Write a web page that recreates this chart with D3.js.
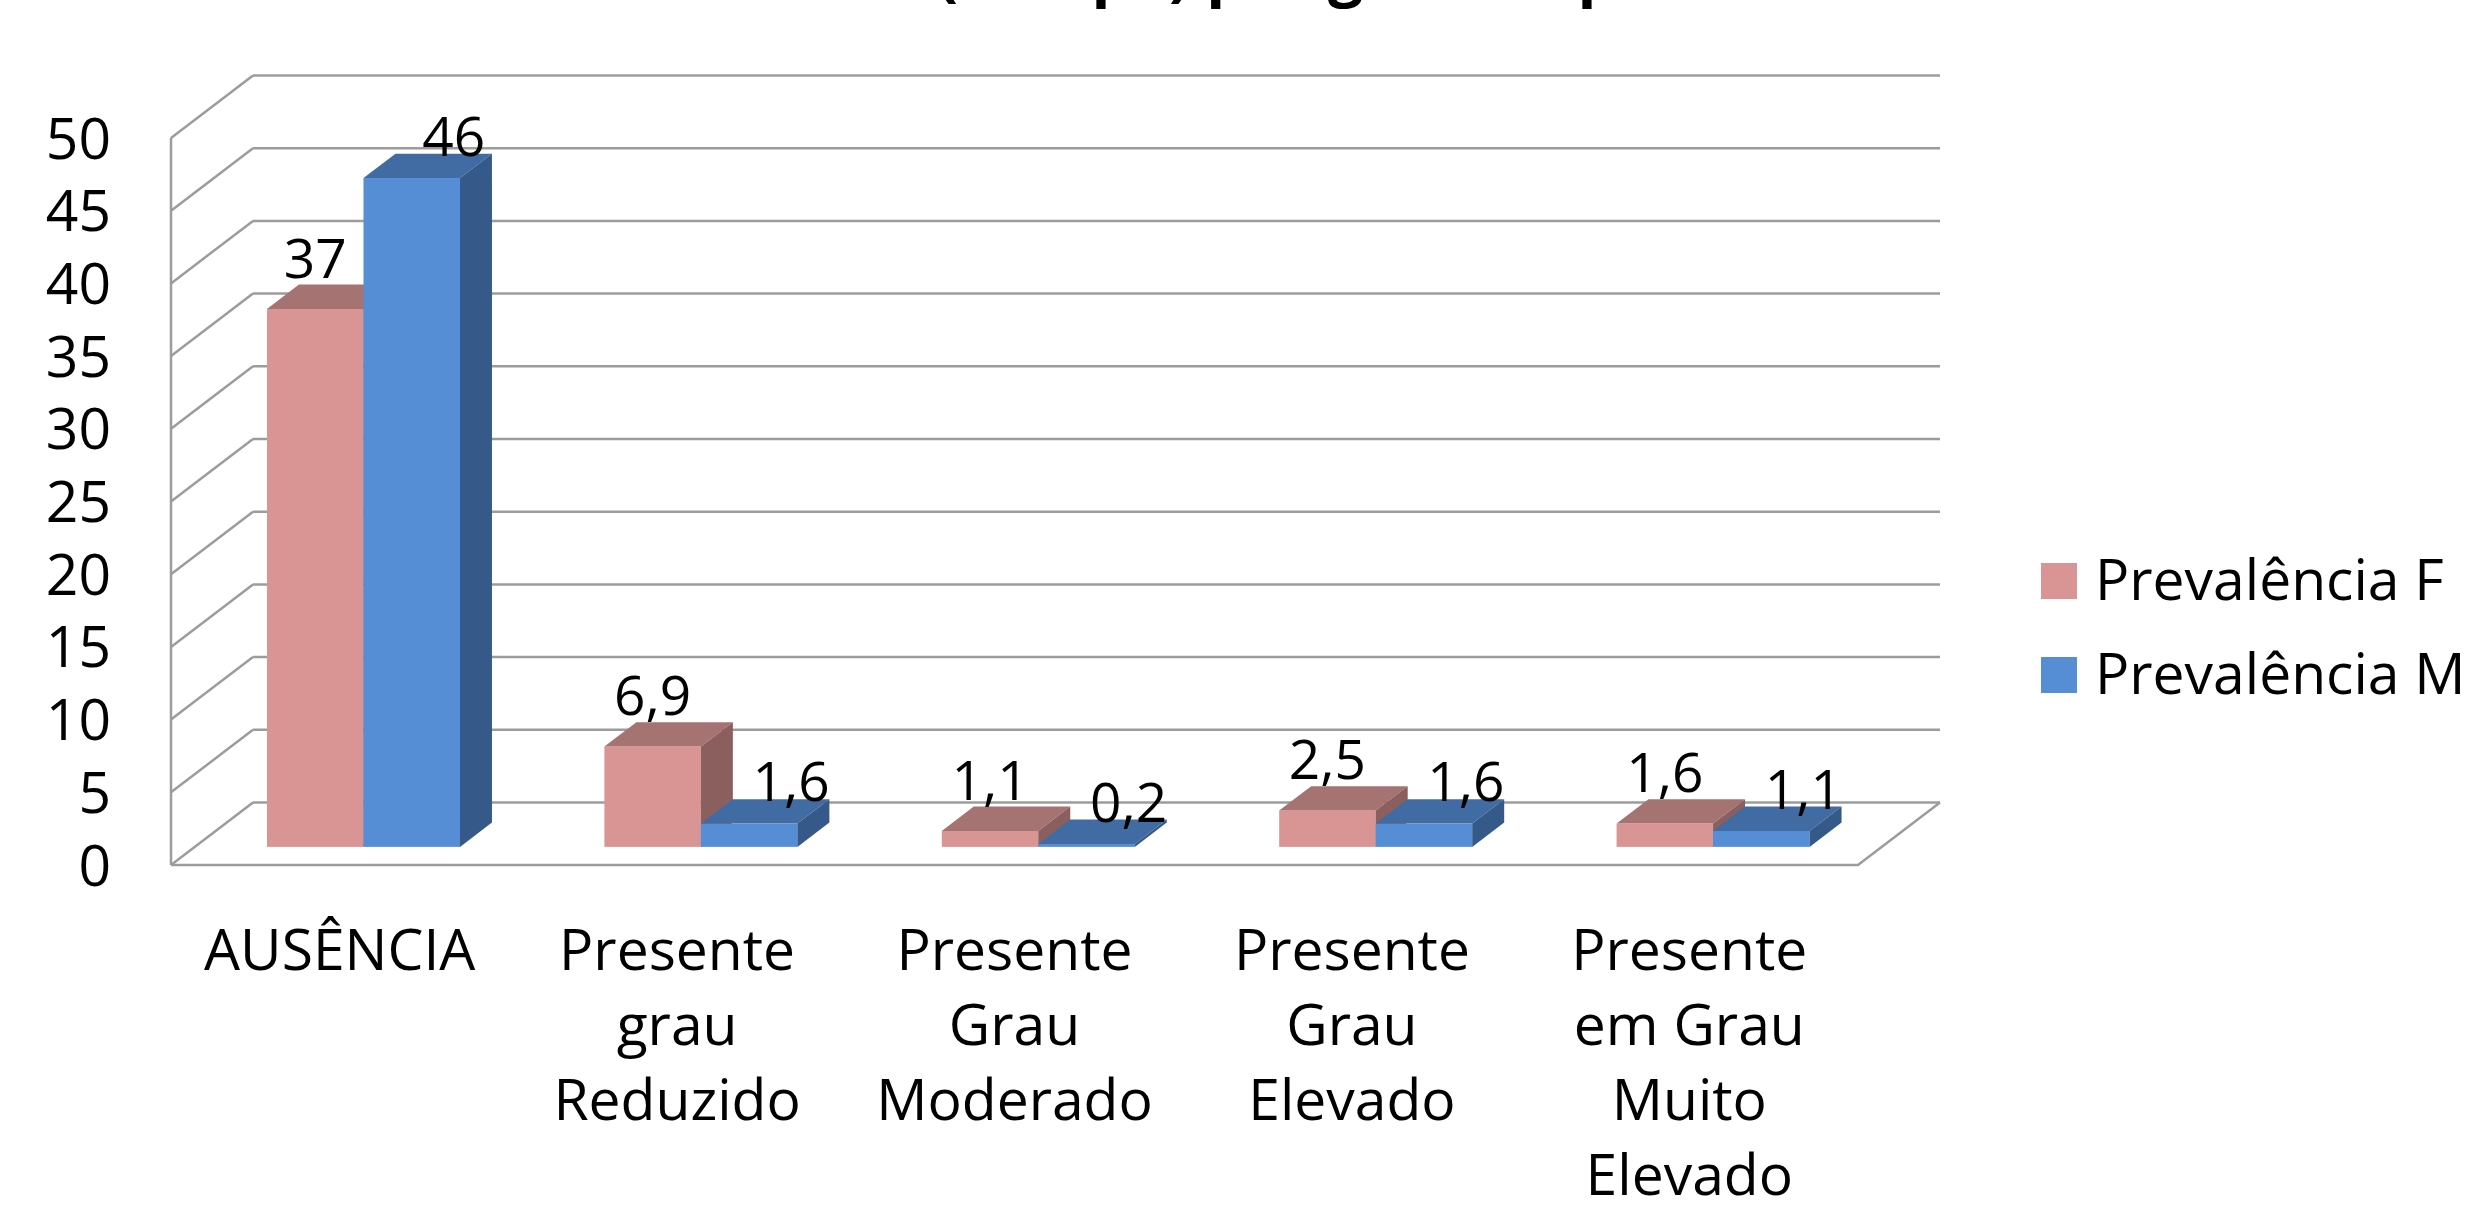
<!DOCTYPE html>
<html>
<head>
<meta charset="utf-8">
<script src="https://cdn.jsdelivr.net/npm/d3@7"></script>
<style>
  body { margin: 0; background: #fff; }
  text { font-family: "Open Sans", Lato, sans-serif; fill: #000; }
</style>
</head>
<body>
<script>
// chart data
var categories = ["AUSÊNCIA", "Presente\ngrau\nReduzido", "Presente\nGrau\nModerado",
                  "Presente\nGrau\nElevado", "Presente\nem Grau\nMuito\nElevado"];
var series = ["Prevalência F", "Prevalência M"];
var valuesF = [37, 6.9, 1.1, 2.5, 1.6];
var valuesM = [46, 1.6, 0.2, 1.6, 1.1];
var yTicks = [0, 5, 10, 15, 20, 25, 30, 35, 40, 45, 50];
var titleStart = "Prevalência ",
    titleRest = "(Tempo) por grau de placa";

var w = 2470, h = 1206;

// colours: front / top / side of each series
var colors = {
  "Prevalência F": {front: "#D99594", top: "#A57371", side: "#8B5F5E"},
  "Prevalência M": {front: "#558ED5", top: "#416CA3", side: "#355A89"}
};

var svg = d3.select("body").append("svg")
  .attr("width", w)
  .attr("height", h);

svg.append("rect").attr("width", w).attr("height", h).attr("fill", "#fff");

// front plane of the floor, the walls sit one depth step behind it
var x = d3.scaleBand().domain(categories).range([171, 1858]);
var y = d3.scaleLinear().domain([0, 50]).range([865, 138]);
var depthX = 82, depthY = -62.5;

// bars stand in the middle of the floor depth
var barFront = 0.29, barDepth = 0.39, barHalf = 96.5;
var xs = d3.scaleBand().domain(series).range([-barHalf, barHalf]);

var grid = svg.append("g")
  .attr("fill", "none")
  .attr("stroke", "#9c9c9c")
  .attr("stroke-width", 2.5);

// back wall lines
grid.selectAll("line.back").data(yTicks).enter().append("line")
  .attr("x1", x.range()[0] + depthX)
  .attr("x2", x.range()[1] + depthX)
  .attr("y1", function(d){ return y(d) + depthY; })
  .attr("y2", function(d){ return y(d) + depthY; });

// side wall diagonals
grid.selectAll("line.side").data(yTicks).enter().append("line")
  .attr("x1", x.range()[0])
  .attr("x2", x.range()[0] + depthX)
  .attr("y1", function(d){ return y(d); })
  .attr("y2", function(d){ return y(d) + depthY; });

// front vertical axis + floor edge
grid.append("line")
  .attr("x1", x.range()[0]).attr("x2", x.range()[0])
  .attr("y1", y(50)).attr("y2", y(0));
grid.append("path")
  .attr("d", "M" + x.range()[0] + "," + y(0) + "H" + x.range()[1] +
             "l" + depthX + "," + depthY);

// y tick labels
svg.append("g").selectAll("text").data(yTicks).enter().append("text")
  .attr("x", 111)
  .attr("y", function(d){ return y(d); })
  .attr("dy", "0.36em")
  .attr("text-anchor", "end")
  .style("font-size", "57px")
  .text(function(d){ return d; });

// build one row per bar
var bars = [];
categories.forEach(function(c, i){
  bars.push({cat: c, s: series[0], v: valuesF[i]});
  bars.push({cat: c, s: series[1], v: valuesM[i]});
});

var ox = depthX * barFront, oy = depthY * barFront;
var dx = depthX * barDepth, dy = depthY * barDepth;

var barG = svg.append("g").selectAll("g").data(bars).enter().append("g");

barG.each(function(d){
  var g = d3.select(this);
  var x0 = x(d.cat) + x.bandwidth() / 2 + xs(d.s) + ox,
      x1 = x0 + xs.bandwidth(),
      yt = y(d.v) + oy,
      yb = y(0) + oy;
  d.x0 = x0; d.x1 = x1; d.yt = yt;
  g.append("rect")
    .attr("x", x0).attr("y", yt)
    .attr("width", x1 - x0).attr("height", yb - yt)
    .attr("fill", colors[d.s].front);
  g.append("path")
    .attr("d", "M" + x0 + "," + yt + "L" + x1 + "," + yt + "L" + (x1 + dx) + "," + (yt + dy) +
               "L" + (x0 + dx) + "," + (yt + dy) + "Z")
    .attr("fill", colors[d.s].top);
  g.append("path")
    .attr("d", "M" + x1 + "," + yt + "L" + (x1 + dx) + "," + (yt + dy) + "L" + (x1 + dx) + "," + (yb + dy) +
               "L" + x1 + "," + yb + "Z")
    .attr("fill", colors[d.s].side);
});

// value labels (comma decimals). F sits over its bar, M is pushed right a bit
var fmt = function(v){ return String(v).replace(".", ","); };
svg.append("g").selectAll("text").data(bars).enter().append("text")
  .attr("x", function(d){ return (d.x0 + d.x1) / 2 + (d.s == series[1] ? 42 : 0); })
  .attr("y", function(d){ return d.yt + dy + (d.s == series[1] ? 2 : -7); })
  .attr("text-anchor", "middle")
  .style("font-size", "55px")
  .text(function(d){ return fmt(d.v); });

// category labels, split on line breaks
var catG = svg.append("g").selectAll("text").data(categories).enter().append("text")
  .attr("x", function(d){ return x(d) + x.bandwidth() / 2; })
  .attr("y", 970)
  .attr("text-anchor", "middle")
  .style("font-size", "57px");
catG.each(function(d){
  var t = d3.select(this);
  d.split("\n").forEach(function(line, i){
    t.append("tspan")
      .attr("x", x(d) + x.bandwidth() / 2)
      .attr("y", 970 + i * 75)
      .text(line);
  });
});

// legend
var legend = svg.append("g").selectAll("g").data(series).enter().append("g")
  .attr("transform", function(d, i){ return "translate(2041," + (563 + i * 94) + ")"; });
legend.append("rect")
  .attr("width", 36).attr("height", 36)
  .attr("fill", function(d){ return colors[d].front; });
legend.append("text")
  .attr("x", 54).attr("y", 37)
  .style("font-size", "57px")
  .text(function(d){ return d; });

// title, mostly cut off at the top edge; place the "(" near x=937
var title = svg.append("text")
  .attr("y", -6)
  .style("font-size", "62px")
  .style("font-weight", "bold");
title.append("tspan").text(titleStart);
title.append("tspan").text(titleRest);
var startW = title.select("tspan").node().getComputedTextLength();
title.attr("x", 937 - startW);
</script>
</body>
</html>
